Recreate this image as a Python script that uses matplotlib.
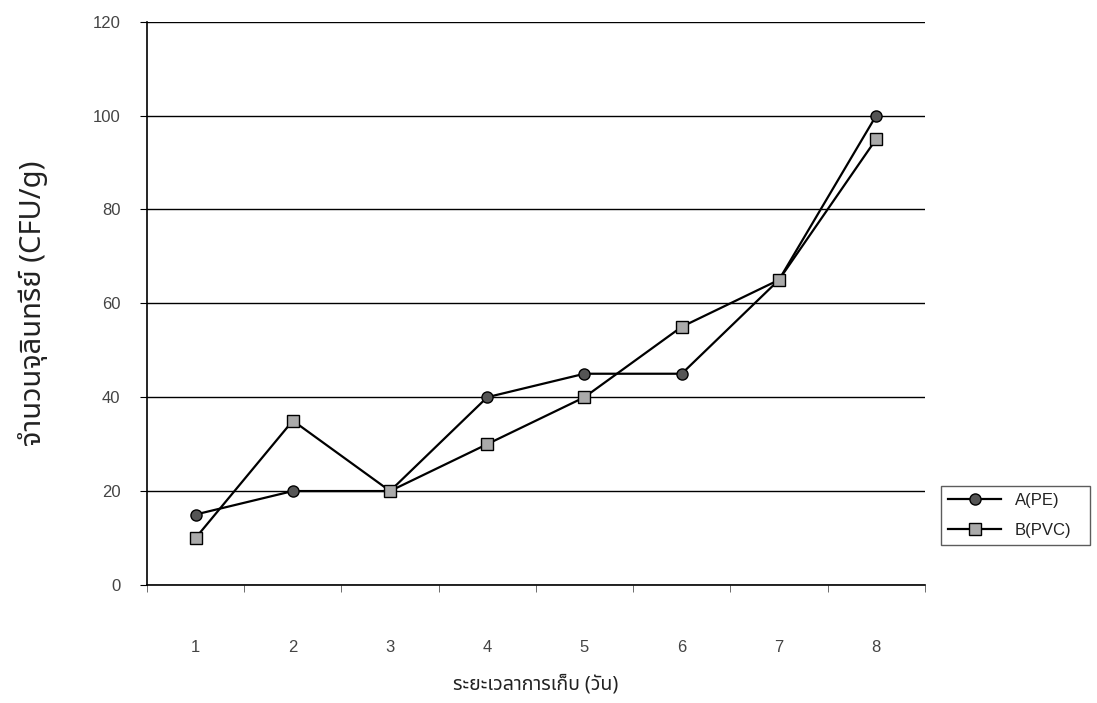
import matplotlib.pyplot as plt
from matplotlib import font_manager
import numpy as np

days = ['1', '2', '3', '4', '5', '6', '7', '8']
pe_counts = [15, 20, 20, 40, 45, 45, 65, 100]
pvc_counts = [10, 35, 20, 30, 40, 55, 65, 95]
y_ticks = [0, 20, 40, 60, 80, 100, 120]


def thai_family():
    names = {f.name for f in font_manager.fontManager.ttflist}
    for cand in ['Noto Sans Thai', 'Noto Sans Thai UI', 'Loma', 'Garuda', 'Tlwg Typo']:
        if cand in names:
            return [cand, 'Liberation Sans', 'DejaVu Sans']
    return ['Liberation Sans', 'DejaVu Sans']


def main():
    plt.rcParams['font.family'] = ['Liberation Sans', 'DejaVu Sans']
    fam = thai_family()
    fig = plt.figure(figsize=(10.97, 7.03), dpi=100)
    ax = fig.add_axes([0.134, 0.168, 0.709, 0.801])
    x = np.arange(len(days))
    ax.plot(x, pe_counts, color='black', lw=1.6, marker='o', ms=8,
            mfc='#555555', mec='black', label='A(PE)', zorder=3)
    ax.plot(x, pvc_counts, color='black', lw=1.6, marker='s', ms=8,
            mfc='#aaaaaa', mec='black', label='B(PVC)', zorder=3)

    ax.set_xlim(-0.5, len(days) - 0.5)
    ax.set_ylim(0, 120)
    ax.set_yticks(y_ticks)
    ax.yaxis.grid(True, color='black', lw=1.0)
    ax.set_axisbelow(True)
    ax.set_xticks(x)
    ax.set_xticklabels(days)
    ax.set_xticks(np.arange(-0.5, len(days)), minor=True)
    ax.tick_params(axis='x', which='major', length=0, pad=40, labelsize=12, labelcolor='#444444')
    ax.tick_params(axis='x', which='minor', length=5, direction='out', color='#555555')
    ax.tick_params(axis='y', length=5, direction='out', labelsize=12, labelcolor='#444444', pad=14)
    for s in ['top', 'right']:
        ax.spines[s].set_visible(False)
    ax.spines['left'].set_linewidth(1.2)
    ax.spines['bottom'].set_linewidth(1.2)

    ax.set_xlabel('ระยะเวลาการเก็บ (วัน)', fontsize=14, family=fam, labelpad=14, color='#222222')
    ax.set_ylabel('จำนวนจุลินทรีย์ (CFU/g)', fontsize=21, family=fam, labelpad=32, color='#222222')

    leg = fig.legend(loc='lower left', bbox_to_anchor=(0.858, 0.225, 0.136, 0.118),
                     mode='expand', frameon=True, fancybox=False, edgecolor='#333333',
                     fontsize=12, handlelength=3.2, borderaxespad=0, labelspacing=0.9,
                     labelcolor='#222222')
    leg.get_frame().set_linewidth(1.0)

    fig.savefig('out.png', dpi=100)


if __name__ == '__main__':
    main()
